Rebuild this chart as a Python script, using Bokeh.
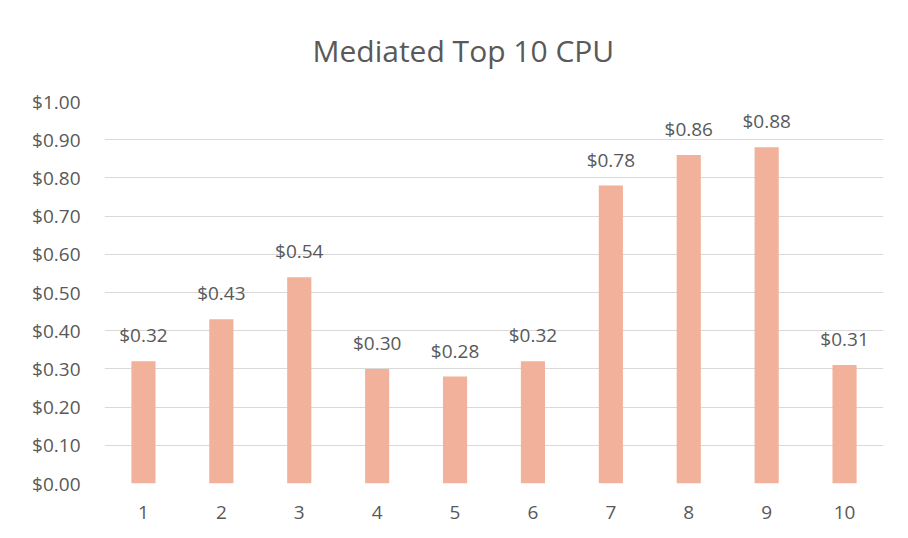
from bokeh.plotting import figure
from bokeh.models import ColumnDataSource, LabelSet, NumeralTickFormatter, FixedTicker, Range1d
from bokeh.core.properties import value
from bokeh.embed import file_html
from bokeh.resources import INLINE

categories = ["1", "2", "3", "4", "5", "6", "7", "8", "9", "10"]
values = [0.32, 0.43, 0.54, 0.30, 0.28, 0.32, 0.78, 0.86, 0.88, 0.31]
value_labels = ["$0.32", "$0.43", "$0.54", "$0.30", "$0.28", "$0.32", "$0.78", "$0.86", "$0.88", "$0.31"]
y_ticks = [0.0, 0.1, 0.2, 0.3, 0.4, 0.5, 0.6, 0.7, 0.8, 0.9, 1.0]
title_text = "Mediated Top 10 CPU"

FONT = "Open Sans"
TXT = "#595959"

source = ColumnDataSource(dict(cat=categories, val=values, lab=value_labels))

p = figure(
    x_range=categories,
    y_range=Range1d(0, 1),
    width=900, height=530,
    output_backend="svg",
    toolbar_location=None,
    min_border_left=104, min_border_right=17,
    min_border_top=98, min_border_bottom=47,
)

p.title.text = title_text
p.title.align = "left"
p.title.vertical_align = "top"
p.title.text_font = FONT
p.title.text_font_size = "30px"
p.title.text_font_style = "normal"
p.title.text_color = TXT
p.title.text_line_height = 0.6
p.title.offset = 208
p.title.standoff = 58

p.vbar(x="cat", top="val", width=0.31, source=source, color="#F2B19A", line_color=None)

labels = LabelSet(x="cat", y="val", text="lab", source=source, y_offset=13,
                  text_align="center", text_baseline="bottom",
                  text_font=value(FONT), text_font_size=value("19px"), text_color=TXT)
p.add_layout(labels)

p.outline_line_color = None
p.xgrid.grid_line_color = None
p.ygrid.grid_line_color = "#d9d9d9"
p.ygrid.grid_line_width = 1

p.yaxis.ticker = FixedTicker(ticks=y_ticks)
p.yaxis.formatter = NumeralTickFormatter(format="$0.00")

for ax in (p.xaxis, p.yaxis):
    ax.axis_line_color = None
    ax.major_tick_line_color = None
    ax.minor_tick_line_color = None
    ax.major_label_text_font = FONT
    ax.major_label_text_font_size = "19px"
    ax.major_label_text_color = TXT

p.yaxis.major_label_standoff = 18
p.xaxis.major_label_standoff = 16

open("out.html", "w").write(file_html(p, INLINE))
